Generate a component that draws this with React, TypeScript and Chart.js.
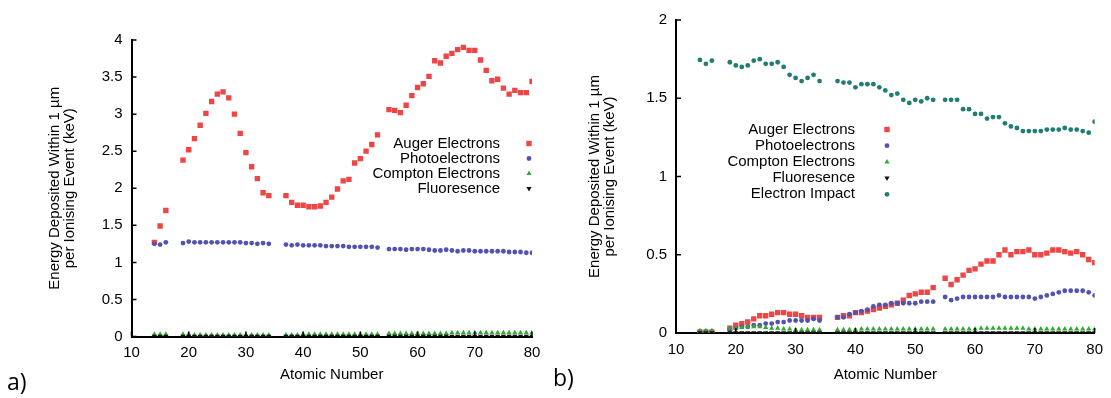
import React, { useEffect, useRef } from 'react';
import { Chart, registerables } from 'chart.js';

Chart.register(...registerables);

// Atomic numbers sampled (gaps at 17-18, 35-36, 54)
const atomicNumbers = [
  14, 15, 16,
  19, 20, 21, 22, 23, 24, 25, 26, 27, 28, 29, 30, 31, 32, 33, 34,
  37, 38, 39, 40, 41, 42, 43, 44, 45, 46, 47, 48, 49, 50, 51, 52, 53,
  55, 56, 57, 58, 59, 60, 61, 62, 63, 64, 65, 66, 67, 68, 69, 70, 71, 72, 73, 74, 75, 76, 77, 78, 79, 80,
];

const xTicks = [10, 20, 30, 40, 50, 60, 70, 80];
const yTicksA = [0, 0.5, 1, 1.5, 2, 2.5, 3, 3.5, 4];
const yTicksB = [0, 0.5, 1, 1.5, 2];

const seriesLabels = ['Auger Electrons', 'Photoelectrons', 'Compton Electrons', 'Fluoresence', 'Electron Impact'];
const xTitle = 'Atomic Number';
const yTitle = ['Energy Deposited Within 1 µm', 'per Ionising Event (keV)'];

// ---- Panel a ----
const augerA = [
  1.27, 1.49, 1.70,
  2.38, 2.52, 2.67, 2.85, 3.01, 3.17, 3.27, 3.30, 3.22, 3.00, 2.74, 2.48, 2.29, 2.13, 1.94, 1.90,
  1.90, 1.81, 1.77, 1.77, 1.75, 1.75, 1.76, 1.81, 1.88, 1.99, 2.10, 2.12, 2.34, 2.40, 2.50, 2.59, 2.72,
  3.06, 3.05, 3.02, 3.12, 3.25, 3.36, 3.41, 3.51, 3.72, 3.69, 3.78, 3.82, 3.87, 3.90, 3.86, 3.86, 3.73, 3.59, 3.45, 3.47, 3.35, 3.27, 3.32, 3.29, 3.29, 3.44,
];
const photoA = [
  1.25, 1.24, 1.27,
  1.26, 1.28, 1.27, 1.27, 1.27, 1.27, 1.27, 1.27, 1.27, 1.27, 1.27, 1.26, 1.26, 1.25, 1.26, 1.25,
  1.24, 1.23, 1.24, 1.23, 1.23, 1.23, 1.23, 1.22, 1.22, 1.22, 1.22, 1.21, 1.21, 1.21, 1.21, 1.21, 1.20,
  1.18, 1.18, 1.18, 1.17, 1.18, 1.18, 1.18, 1.17, 1.16, 1.16, 1.17, 1.16, 1.15, 1.16, 1.16, 1.15, 1.15, 1.15, 1.15, 1.15, 1.15, 1.14, 1.14, 1.14, 1.13, 1.13,
];
const comptonA = [
  0.03, 0.03, 0.03,
  0.03, 0.03, 0.02, 0.02, 0.02, 0.02, 0.02, 0.02, 0.02, 0.02, 0.02, 0.02, 0.02, 0.02, 0.02, 0.02,
  0.02, 0.02, 0.02, 0.03, 0.03, 0.03, 0.03, 0.03, 0.03, 0.03, 0.03, 0.03, 0.03, 0.03, 0.03, 0.03, 0.03,
  0.04, 0.04, 0.04, 0.04, 0.04, 0.04, 0.04, 0.04, 0.04, 0.04, 0.04, 0.05, 0.05, 0.05, 0.05, 0.05, 0.05, 0.05, 0.05, 0.05, 0.05, 0.05, 0.05, 0.05, 0.05, 0.05,
];
const fluorA = [
  0.002, 0.002, 0.002,
  0.002, 0.002, 0.002, 0.002, 0.002, 0.002, 0.002, 0.002, 0.002, 0.002, 0.002, 0.002, 0.002, 0.002, 0.002, 0.002,
  0.002, 0.002, 0.002, 0.002, 0.002, 0.002, 0.002, 0.002, 0.002, 0.002, 0.002, 0.002, 0.002, 0.002, 0.002, 0.002, 0.002,
  0.003, 0.003, 0.003, 0.003, 0.003, 0.003, 0.003, 0.003, 0.003, 0.003, 0.003, 0.003, 0.003, 0.003, 0.003, 0.003, 0.003, 0.003, 0.003, 0.003, 0.003, 0.003, 0.003, 0.003, 0.003, 0.003,
];

// ---- Panel b ----
const augerB = [
  0.005, 0.005, 0.005,
  0.03, 0.05, 0.06, 0.07, 0.09, 0.11, 0.11, 0.12, 0.13, 0.13, 0.12, 0.12, 0.11, 0.10, 0.10, 0.10,
  0.10, 0.11, 0.11, 0.13, 0.13, 0.14, 0.15, 0.16, 0.17, 0.18, 0.19, 0.21, 0.24, 0.25, 0.26, 0.26, 0.29,
  0.35, 0.31, 0.34, 0.37, 0.40, 0.41, 0.44, 0.46, 0.46, 0.50, 0.53, 0.50, 0.52, 0.52, 0.53, 0.50, 0.50, 0.51, 0.53, 0.53, 0.52, 0.51, 0.52, 0.50, 0.47, 0.45,
];
const photoB = [
  0.01, 0.01, 0.01,
  0.02, 0.03, 0.04, 0.04, 0.05, 0.05, 0.06, 0.06, 0.07, 0.07, 0.08, 0.08, 0.08, 0.08, 0.09, 0.08,
  0.10, 0.10, 0.12, 0.13, 0.14, 0.15, 0.17, 0.18, 0.18, 0.19, 0.19, 0.19, 0.19, 0.19, 0.20, 0.20, 0.20,
  0.23, 0.21, 0.22, 0.23, 0.23, 0.23, 0.23, 0.23, 0.23, 0.24, 0.23, 0.23, 0.23, 0.23, 0.23, 0.22, 0.23, 0.24, 0.25, 0.26, 0.27, 0.27, 0.27, 0.27, 0.26, 0.24,
];
const comptonB = [
  0.015, 0.015, 0.015,
  0.03, 0.03, 0.035, 0.04, 0.04, 0.04, 0.035, 0.03, 0.03, 0.025, 0.025, 0.02, 0.02, 0.02, 0.02, 0.02,
  0.02, 0.02, 0.02, 0.02, 0.025, 0.025, 0.025, 0.025, 0.025, 0.025, 0.025, 0.025, 0.025, 0.025, 0.025, 0.025, 0.025,
  0.025, 0.025, 0.025, 0.025, 0.025, 0.025, 0.03, 0.03, 0.03, 0.03, 0.03, 0.03, 0.03, 0.03, 0.025, 0.025, 0.025, 0.025, 0.025, 0.025, 0.025, 0.025, 0.025, 0.025, 0.025, 0.025,
];
const fluorB = [
  0.002, 0.002, 0.002,
  0.002, 0.002, 0.002, 0.002, 0.002, 0.002, 0.002, 0.002, 0.002, 0.002, 0.002, 0.002, 0.002, 0.002, 0.002, 0.002,
  0.002, 0.002, 0.002, 0.002, 0.002, 0.002, 0.002, 0.002, 0.002, 0.002, 0.002, 0.002, 0.002, 0.002, 0.002, 0.002, 0.002,
  0.002, 0.002, 0.002, 0.002, 0.002, 0.002, 0.002, 0.002, 0.002, 0.002, 0.002, 0.002, 0.002, 0.002, 0.002, 0.002, 0.002, 0.002, 0.002, 0.002, 0.002, 0.002, 0.002, 0.002, 0.002, 0.002,
];
const impactB = [
  1.745, 1.72, 1.74,
  1.73, 1.71, 1.70, 1.71, 1.74, 1.75, 1.72, 1.72, 1.73, 1.70, 1.65, 1.63, 1.61, 1.63, 1.65, 1.61,
  1.61, 1.60, 1.60, 1.57, 1.59, 1.59, 1.59, 1.57, 1.55, 1.52, 1.53, 1.49, 1.47, 1.49, 1.48, 1.50, 1.49,
  1.49, 1.49, 1.49, 1.43, 1.43, 1.40, 1.40, 1.37, 1.38, 1.38, 1.34, 1.32, 1.31, 1.29, 1.29, 1.29, 1.29, 1.30, 1.30, 1.30, 1.31, 1.30, 1.30, 1.29, 1.28, 1.35,
];

const FONT = '"Liberation Sans", Arial, sans-serif';

const styles = [
  { color: '#ee4545', pointStyle: 'rect', radius: 3.8, rotation: 0 },
  { color: '#5252b0', pointStyle: 'circle', radius: 2.4, rotation: 0 },
  { color: '#30aa30', pointStyle: 'triangle', radius: 3, rotation: 0 },
  { color: '#111111', pointStyle: 'triangle', radius: 3, rotation: 180 },
  { color: '#1f7d72', pointStyle: 'circle', radius: 2.4, rotation: 0 },
];

function drawMarker(ctx: CanvasRenderingContext2D, st: any, x: number, y: number) {
  ctx.fillStyle = st.color;
  ctx.beginPath();
  const r = st.radius;
  if (st.pointStyle === 'rect') {
    const s = r * Math.SQRT1_2;
    ctx.rect(x - s, y - s, 2 * s, 2 * s);
  } else if (st.pointStyle === 'triangle') {
    let rad = (st.rotation * Math.PI) / 180;
    ctx.moveTo(x + Math.sin(rad) * r, y - Math.cos(rad) * r);
    rad += (2 * Math.PI) / 3;
    ctx.lineTo(x + Math.sin(rad) * r, y - Math.cos(rad) * r);
    rad += (2 * Math.PI) / 3;
    ctx.lineTo(x + Math.sin(rad) * r, y - Math.cos(rad) * r);
    ctx.closePath();
  } else {
    ctx.arc(x, y, r, 0, Math.PI * 2);
  }
  ctx.fill();
}

const decorPlugin = {
  id: 'gnuDecor',
  afterDatasetsDraw(chart: any, _args: any, opts: any) {
    const { ctx, chartArea, scales } = chart;
    ctx.save();
    ctx.strokeStyle = '#000';
    ctx.lineWidth = 1.5;
    ctx.beginPath();
    scales.x.ticks.forEach((t: any) => {
      const px = scales.x.getPixelForValue(t.value);
      ctx.moveTo(px, chartArea.bottom);
      ctx.lineTo(px, chartArea.bottom - 5);
    });
    scales.y.ticks.forEach((t: any) => {
      const py = scales.y.getPixelForValue(t.value);
      ctx.moveTo(chartArea.left, py);
      ctx.lineTo(chartArea.left + 5, py);
    });
    ctx.stroke();
    // legend
    const n = chart.data.datasets.length;
    ctx.font = '15px ' + FONT;
    ctx.textAlign = 'right';
    ctx.textBaseline = 'middle';
    for (let i = 0; i < n; i++) {
      const y = opts.top + i * opts.step;
      ctx.fillStyle = '#000';
      ctx.fillText(chart.data.datasets[i].label, opts.textRight, y);
      drawMarker(ctx, styles[i], opts.markerX, y);
    }
    ctx.restore();
  },
};

function buildConfig(series: number[][], yTicks: number[], geo: any): any {
  const datasets = series.map((vals, i) => ({
    label: seriesLabels[i],
    data: atomicNumbers.map((z, k) => ({ x: z, y: vals[k] })),
    backgroundColor: styles[i].color,
    borderWidth: 0,
    pointStyle: styles[i].pointStyle,
    pointRadius: styles[i].radius,
    rotation: styles[i].rotation,
    order: series.length - i,
  }));
  const tickFont = { family: FONT, size: 15, lineHeight: 1.2 };
  return {
    type: 'scatter',
    data: { datasets },
    plugins: [decorPlugin],
    options: {
      animation: false,
      responsive: false,
      events: [],
      layout: { padding: { left: geo.padLeft, right: geo.padRight, top: geo.padTop, bottom: geo.padBottom } },
      plugins: {
        legend: { display: false },
        tooltip: { enabled: false },
        gnuDecor: geo.legend,
      },
      scales: {
        x: {
          type: 'linear',
          min: xTicks[0],
          max: xTicks[xTicks.length - 1],
          afterBuildTicks: (s: any) => { s.ticks = xTicks.map((v) => ({ value: v })); },
          ticks: { color: '#000', font: tickFont, padding: geo.xTickPad, maxRotation: 0, callback: (v: any) => String(v) },
          grid: { display: false, drawTicks: false },
          border: { display: true, color: '#000', width: 2 },
          title: { display: true, text: xTitle, color: '#000', font: { family: FONT, size: 15, lineHeight: 1 }, padding: { top: 0, bottom: 0 } },
          afterFit: (s: any) => { s.height = geo.xHeight; },
        },
        y: {
          type: 'linear',
          min: yTicks[0],
          max: yTicks[yTicks.length - 1],
          afterBuildTicks: (s: any) => { s.ticks = yTicks.map((v) => ({ value: v })); },
          ticks: { color: '#000', font: tickFont, padding: 9, callback: (v: any) => String(v) },
          grid: { display: false, drawTicks: false },
          border: { display: true, color: '#000', width: 2 },
          title: { display: true, text: yTitle, color: '#000', font: { family: FONT, size: 15, lineHeight: 1 }, padding: { top: 0, bottom: 0 } },
          afterFit: (s: any) => { s.width = geo.yWidth; },
        },
      },
    },
  };
}

function Panel({ series, yTicks, geo, left, width }: any) {
  const ref = useRef<HTMLCanvasElement>(null);
  useEffect(() => {
    const chart = new Chart(ref.current as HTMLCanvasElement, buildConfig(series, yTicks, geo));
    return () => chart.destroy();
  }, []);
  return (
    <canvas
      ref={ref}
      width={width}
      height={398}
      style={{ position: 'absolute', left, top: 0, width, height: 398 }}
    />
  );
}

const geoA = {
  padLeft: 47.5, yWidth: 84, padRight: 28, padTop: 40, padBottom: 15.5, xHeight: 46, xTickPad: 7,
  legend: { textRight: 500, markerX: 529, top: 143.5, step: 15 },
};
const geoB = {
  padLeft: 47.5, yWidth: 88.5, padRight: 11.5, padTop: 20, padBottom: 16, xHeight: 49, xTickPad: 8,
  legend: { textRight: 315, markerX: 347, top: 129.5, step: 16.2 },
};

export default function App() {
  return (
    <div style={{ position: 'fixed', left: 0, top: 0, width: 1111, height: 398, background: '#fff', overflow: 'hidden' }}>
      <Panel series={[augerA, photoA, comptonA, fluorA]} yTicks={yTicksA} geo={geoA} left={0} width={560} />
      <Panel series={[augerB, photoB, comptonB, fluorB, impactB]} yTicks={yTicksB} geo={geoB} left={540} width={571} />
      <div style={{ position: 'absolute', left: 7, top: 366, fontFamily: '"Open Sans", sans-serif', fontSize: 23, lineHeight: '30px', color: '#000' }}>a)</div>
      <div style={{ position: 'absolute', left: 553, top: 362, fontFamily: '"Open Sans", sans-serif', fontSize: 23, lineHeight: '30px', color: '#000' }}>b)</div>
    </div>
  );
}
